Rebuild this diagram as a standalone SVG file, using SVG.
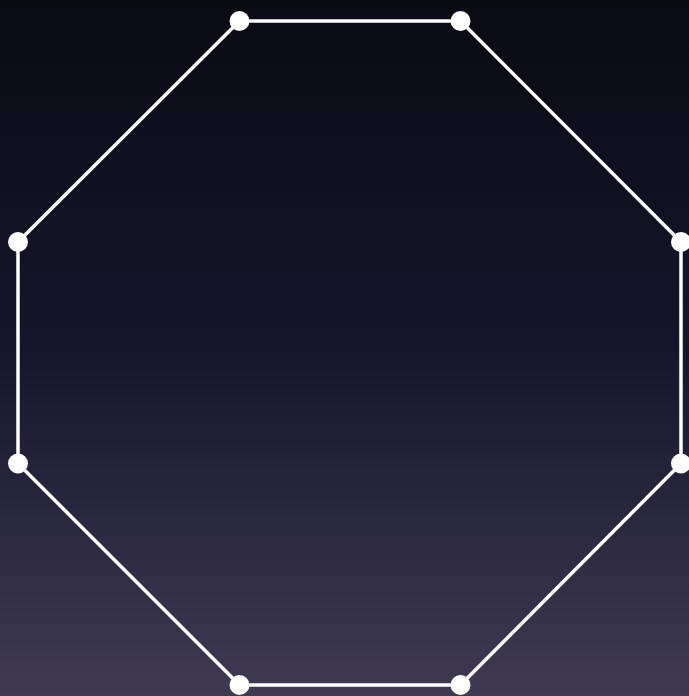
<svg xmlns="http://www.w3.org/2000/svg" width="689" height="696" viewBox="0 0 689 696">
<defs>
<linearGradient id="bg" x1="0" y1="0" x2="0" y2="1">
<stop offset="0" stop-color="#0a0a13"/>
<stop offset="0.5" stop-color="#15162b"/>
<stop offset="1" stop-color="#3f3a52"/>
</linearGradient>
<style>
.edge{fill:none;stroke:#ffffff;stroke-width:3.5}
.v{fill:#ffffff}
</style>
</defs>
<rect width="689" height="696" fill="url(#bg)"/>
<g id="connectors">
<polygon class="edge" points="239.5,21 460.5,21 681,242 681,463.5 460.5,685 239.5,685 18,463.5 18,242"/>
</g>
<g id="n1"><circle class="v" cx="239.5" cy="21" r="10"/></g>
<g id="n2"><circle class="v" cx="460.5" cy="21" r="10"/></g>
<g id="n3"><circle class="v" cx="681" cy="242" r="10"/></g>
<g id="n4"><circle class="v" cx="681" cy="463.5" r="10"/></g>
<g id="n5"><circle class="v" cx="460.5" cy="685" r="10"/></g>
<g id="n6"><circle class="v" cx="239.5" cy="685" r="10"/></g>
<g id="n7"><circle class="v" cx="18" cy="463.5" r="10"/></g>
<g id="n8"><circle class="v" cx="18" cy="242" r="10"/></g>
</svg>
